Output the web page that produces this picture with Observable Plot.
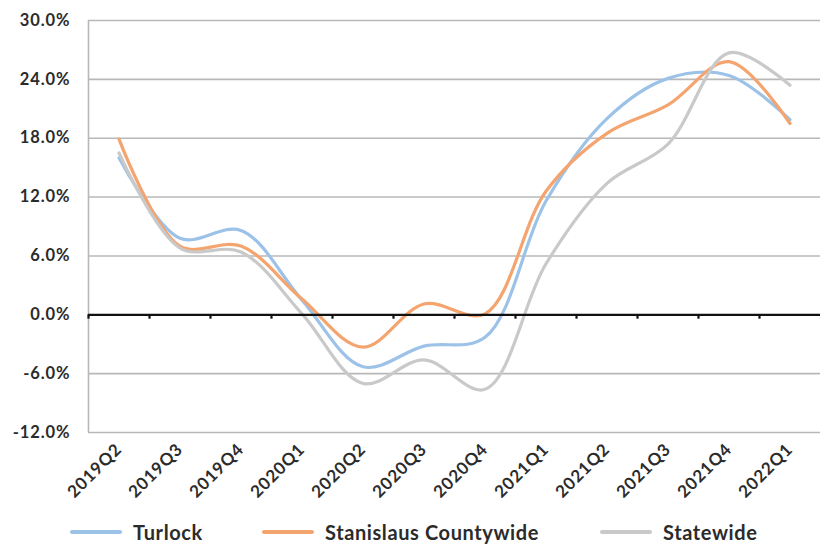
<!DOCTYPE html>
<html>
<head>
<meta charset="utf-8">
<script src="https://cdn.jsdelivr.net/npm/d3@7"></script>
<script src="https://cdn.jsdelivr.net/npm/@observablehq/plot@0.6"></script>
<style>
  body { margin: 0; background: #fff; font-family: Lato, "Open Sans", sans-serif; }
  #chart svg { display: block; }
  .legend { position: relative; height: 30px; margin-top: 12px; font-weight: bold; font-size: 20px; color: #2b2b2b; letter-spacing: 0.6px; }
  .legend .item { display: flex; align-items: center; position: absolute; top: 0; height: 30px; }
  .legend .sw { width: 52px; height: 4px; margin-right: 11px; border-radius: 2px; }
  #chart svg text { letter-spacing: 0.9px; }
</style>
</head>
<body>
<div id="chart"></div>
<div class="legend" id="legend"></div>
<script>
const quarters = ["2019Q2","2019Q3","2019Q4","2020Q1","2020Q2","2020Q3","2020Q4","2021Q1","2021Q2","2021Q3","2021Q4","2022Q1"];
const turlock   = [16.0, 7.8, 8.6, 1.5, -5.3, -3.2, -2.3, 11.6, 20.0, 24.1, 24.4, 19.9];
const stanislaus = [17.9, 7.0, 7.0, 1.6, -3.3, 1.1, 0.1, 12.6, 18.5, 21.4, 25.8, 19.5];
const statewide = [16.5, 6.8, 6.4, 0.1, -7.0, -4.6, -7.6, 5.2, 13.4, 17.4, 26.7, 23.4];
const seriesNames = ["Turlock", "Stanislaus Countywide", "Statewide"];
const seriesColors = ["#9cc2e8", "#f4a46f", "#c9c9c9"];
const yTicks = [-12, -6, 0, 6, 12, 18, 24, 30];

const seriesValues = [turlock, stanislaus, statewide];
const data = seriesValues.flatMap((vals, s) => vals.map((v, i) => ({i, v, series: seriesNames[s]})));
const idx = quarters.map((q, i) => i);

const plot = Plot.plot({
  width: 820,
  height: 505,
  marginLeft: 88,
  marginRight: 0,
  marginTop: 20,
  marginBottom: 73,
  style: {fontFamily: "Lato, sans-serif", fontWeight: "bold", color: "#2b2b2b", background: "#fff"},
  x: {domain: [-0.5, 11.5], axis: null, label: null},
  y: {domain: [-12, 30], axis: null, label: null},
  color: {domain: seriesNames, range: seriesColors},
  marks: [
    Plot.ruleY(yTicks.filter(t => t !== 0), {stroke: "#b8b8b8", strokeWidth: 1.6}),
    Plot.ruleX([-0.5], {stroke: "#b8b8b8", strokeWidth: 1.6}),
    Plot.axisY({ticks: yTicks, tickSize: 0, tickPadding: 18, label: null, tickFormat: d => d.toFixed(1) + "%", fontSize: 16.5, fontWeight: "bold"}),
    Plot.axisX({ticks: idx, tickSize: 0, tickRotate: -45, tickPadding: 14, label: null, tickFormat: i => quarters[i], fontSize: 17, fontWeight: "bold"}),
    Plot.lineY(data, {x: "i", y: "v", stroke: "series", strokeWidth: 3.2, curve: "catmull-rom"}),
    Plot.ruleY([0], {stroke: "#111", strokeWidth: 2.2}),
    Plot.ruleX(idx, {x: i => i - 0.5, y1: 0, y2: -0.45, stroke: "#111", strokeWidth: 2.2})
  ]
});
document.getElementById("chart").appendChild(plot);

const legend = document.getElementById("legend");
const legendX = [70, 262, 600];
seriesNames.forEach((name, s) => {
  const item = document.createElement("div");
  item.className = "item";
  item.style.left = legendX[s] + "px";
  item.innerHTML = `<span class="sw" style="background:${seriesColors[s]}"></span><span>${name}</span>`;
  legend.appendChild(item);
});
</script>
</body>
</html>
